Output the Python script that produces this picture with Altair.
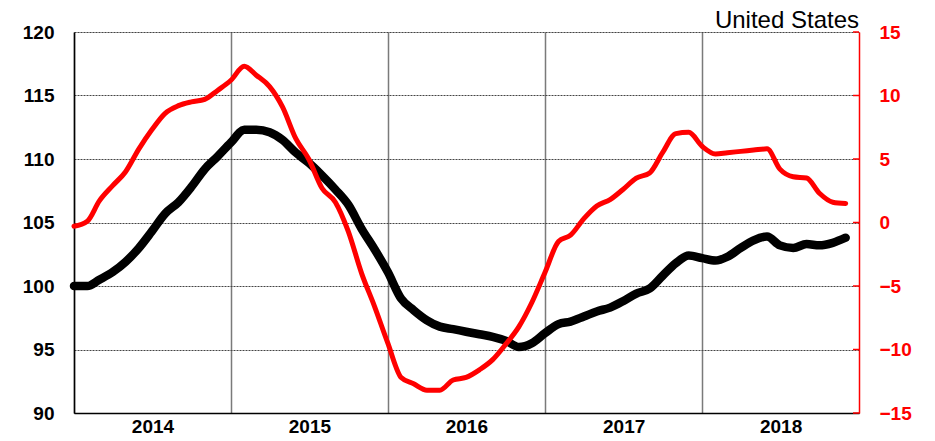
import altair as alt
import pandas as pd

months = pd.date_range("2014-01-01", periods=60, freq="MS").strftime("%Y-%m-%d").tolist()

index_values = [
    100.0, 100.0, 100.5, 101.1, 101.9, 103.0, 104.3, 105.7, 106.6, 107.8,
    109.2, 110.2, 111.3, 112.3, 112.3, 112.1, 111.5, 110.5, 109.7, 108.7,
    107.6, 106.4, 104.5, 102.9, 101.1, 99.0, 98.1, 97.3, 96.8, 96.6,
    96.4, 96.2, 96.0, 95.7, 95.2, 95.5, 96.3, 97.0, 97.2, 97.6,
    98.0, 98.3, 98.8, 99.4, 99.8, 100.8, 101.8, 102.4, 102.2, 102.0,
    102.3, 103.0, 103.6, 103.9, 103.2, 103.0, 103.3, 103.2, 103.4, 103.8,
]

pct_change = [
    -0.3, 0.1, 1.7, 2.9, 4.0, 5.8, 7.3, 8.6, 9.2, 9.5,
    9.7, 10.4, 11.2, 12.3, 11.6, 10.7, 9.1, 6.6, 5.0, 2.7,
    1.6, -0.7, -4.0, -6.6, -9.5, -12.2, -12.7, -13.2, -13.2, -12.4,
    -12.2, -11.6, -10.8, -9.6, -8.2, -6.3, -3.9, -1.5, -1.0, 0.3,
    1.3, 1.8, 2.6, 3.5, 3.9, 5.5, 7.0, 7.1, 6.0, 5.4,
    5.5, 5.6, 5.7, 5.8, 4.2, 3.6, 3.5, 2.3, 1.6, 1.5,
]

left_ticks = [90, 95, 100, 105, 110, 115, 120]
right_ticks = [-15, -10, -5, 0, 5, 10, 15]
year_ticks = [2014, 2015, 2016, 2017, 2018]

df = pd.DataFrame({"date": months, "index": index_values, "pct": pct_change})
ticks_df = pd.DataFrame({"pct": right_ticks})

FONT = "Liberation Sans"
W, H = 785, 381

x_enc = alt.X(
    "date:T",
    scale=alt.Scale(
        type="utc",
        domain=[alt.DateTime(year=2014, month=1, date=1, utc=True),
                alt.DateTime(year=2019, month=1, date=1, utc=True)],
    ),
    axis=alt.Axis(
        title=None,
        values=[alt.DateTime(year=y, month=1, date=1, utc=True) for y in year_ticks],
        format="%Y",
        labelOffset=78.5,
        labelFlush=False,
        labelAlign="center",
        labelFont=FONT,
        labelFontSize=19,
        labelFontWeight="bold",
        labelColor="black",
        labelPadding=4,
        grid=True,
        gridColor="#7a7a7a",
        gridWidth=1.5,
        ticks=False,
        domainColor="black",
        domainWidth=1.5,
    ),
)

black = alt.Chart(df).mark_line(
    color="black", strokeWidth=8.5, interpolate="monotone", strokeCap="round"
).encode(
    x=x_enc,
    y=alt.Y(
        "index:Q",
        scale=alt.Scale(domain=[90, 120], nice=False, zero=False),
        axis=alt.Axis(
            title=None,
            values=left_ticks,
            orient="left",
            labelFont=FONT,
            labelFontSize=19,
            labelFontWeight="bold",
            labelColor="black",
            labelPadding=20,
            ticks=False,
            grid=True,
            gridColor="#444444",
            gridDash=[2, 1],
            gridWidth=1,
            domainColor="black",
            domainWidth=1.5,
        ),
    ),
)

red_y = alt.Y(
    "pct:Q",
    scale=alt.Scale(domain=[-15, 15], nice=False, zero=False),
    axis=alt.Axis(
        title=None,
        values=right_ticks,
        orient="right",
        labelFont=FONT,
        labelFontSize=19,
        labelFontWeight="bold",
        labelColor="#ff0000",
        labelPadding=20,
        ticks=False,
        grid=False,
        domainColor="#ff0000",
        domainWidth=1.5,
    ),
)

red = alt.Chart(df).mark_line(
    color="#ff0000", strokeWidth=5, interpolate="monotone", strokeCap="round"
).encode(x=alt.X("date:T"), y=red_y)

red_ticks = alt.Chart(ticks_df).mark_rule(color="#ff0000", strokeWidth=1.5).encode(
    x=alt.value(W - 6), x2=alt.value(W), y="pct:Q"
)

chart = (
    alt.layer(black, alt.layer(red, red_ticks))
    .resolve_scale(y="independent")
    .properties(
        width=W,
        height=H,
        autosize=alt.AutoSizeParams(type="none"),
        padding={"left": 66, "top": 24, "right": 60, "bottom": 22},
        title=alt.TitleParams(
            "United States",
            anchor="end",
            orient="top",
            frame="group",
            font=FONT,
            fontSize=24,
            fontWeight="normal",
            color="black",
            offset=0,
            dy=10,
        ),
    )
    .configure_view(stroke=None)
    .configure(background="white")
)

chart.save("out.html", embed_options={"renderer": "svg", "actions": False})
